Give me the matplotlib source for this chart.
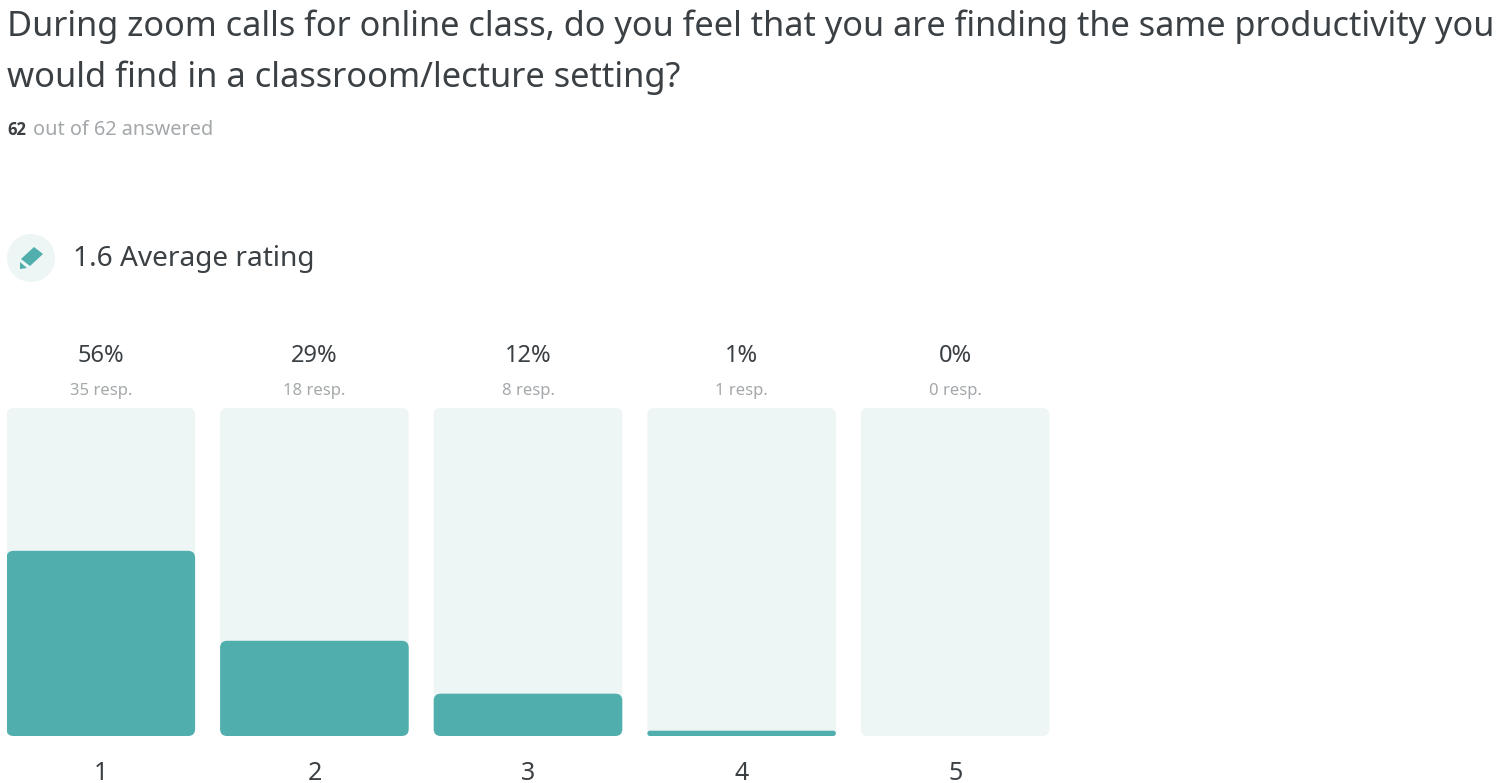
import matplotlib
matplotlib.use('Agg')
import matplotlib.pyplot as plt
from matplotlib.patches import FancyBboxPatch, Circle, Polygon

plt.rcParams['font.family'] = ['Noto Sans', 'DejaVu Sans']

# Data
ratings = [1, 2, 3, 4, 5]
responses = [35, 18, 8, 1, 0]
percents = ['56%', '29%', '12%', '1%', '0%']
total = 62
title_lines = ['During zoom calls for online class, do you feel that you are finding the same productivity you',
               'would find in a classroom/lecture setting?']
average = '1.6 Average rating'

# Colours
TEAL = '#50aeac'
TRACK = '#edf5f5'
DARK = '#3b4044'
GREY = '#a4a8aa'

W, H = 1500, 783
fig = plt.figure(figsize=(W/100, H/100), dpi=100)

# Overlay in pixel coordinates, for the header text
over = fig.add_axes([0, 0, 1, 1])
over.set_xlim(0, W)
over.set_ylim(H, 0)
over.axis('off')

over.text(7, 27, title_lines[0], fontsize=24.7, color=DARK, va='center')
over.text(7, 78, title_lines[1], fontsize=24.85, color=DARK, va='center')
over.text(7, 130, str(total), fontsize=12, color=DARK, va='center', family='Open Sans', fontweight='bold')
over.text(33, 130, f'out of {total} answered', fontsize=14.3, color=GREY, va='center')

# Pencil icon
over.add_patch(Circle((31, 258), 24, color=TRACK, lw=0))
over.add_patch(Polygon([[21, 259], [34, 247], [43, 254], [30, 266]], color=TEAL, lw=0))
over.add_patch(Polygon([[20, 262], [27, 268], [20, 269]], color=TEAL, lw=0))
over.text(73, 259, average, fontsize=20.2, color=DARK, va='center')

# Bars
left, right, top, bottom = 6.5, 1049.5, 408, 736
ax = fig.add_axes([left/W, 1-bottom/H, (right-left)/W, (bottom-top)/H])
ax.patch.set_alpha(0)
step = 213.5
bar_w = 188.5 / step
xs = list(range(len(ratings)))
ax.set_xlim(-bar_w/2, xs[-1] + bar_w/2)
ax.set_ylim(0, total)
aspect = (total/(bottom-top)) * step


def rounded(x, h, color, radius=7/step):
    r = min(radius, h/aspect/2)
    return FancyBboxPatch((x - bar_w/2, 0), bar_w, h, boxstyle=f'round,pad=0,rounding_size={r}',
                          mutation_aspect=aspect, fc=color, ec='none', lw=0)


for x, n in zip(xs, responses):
    ax.add_patch(rounded(x, total, TRACK))
    if n > 0:
        ax.add_patch(rounded(x, n, TEAL))
    ax.text(x, 1.16*total, percents[x], fontsize=17, color=DARK, ha='center', va='center')
    ax.text(x, 1.053*total, f'{n} resp.', fontsize=12, color=GREY, ha='center', va='center')

ax.set_xticks(xs, [str(r) for r in ratings], fontsize=18, color=DARK)
ax.tick_params(axis='x', length=0, pad=18)
ax.set_yticks([])
for s in ax.spines.values():
    s.set_visible(False)

fig.savefig('out.png', dpi=100)
